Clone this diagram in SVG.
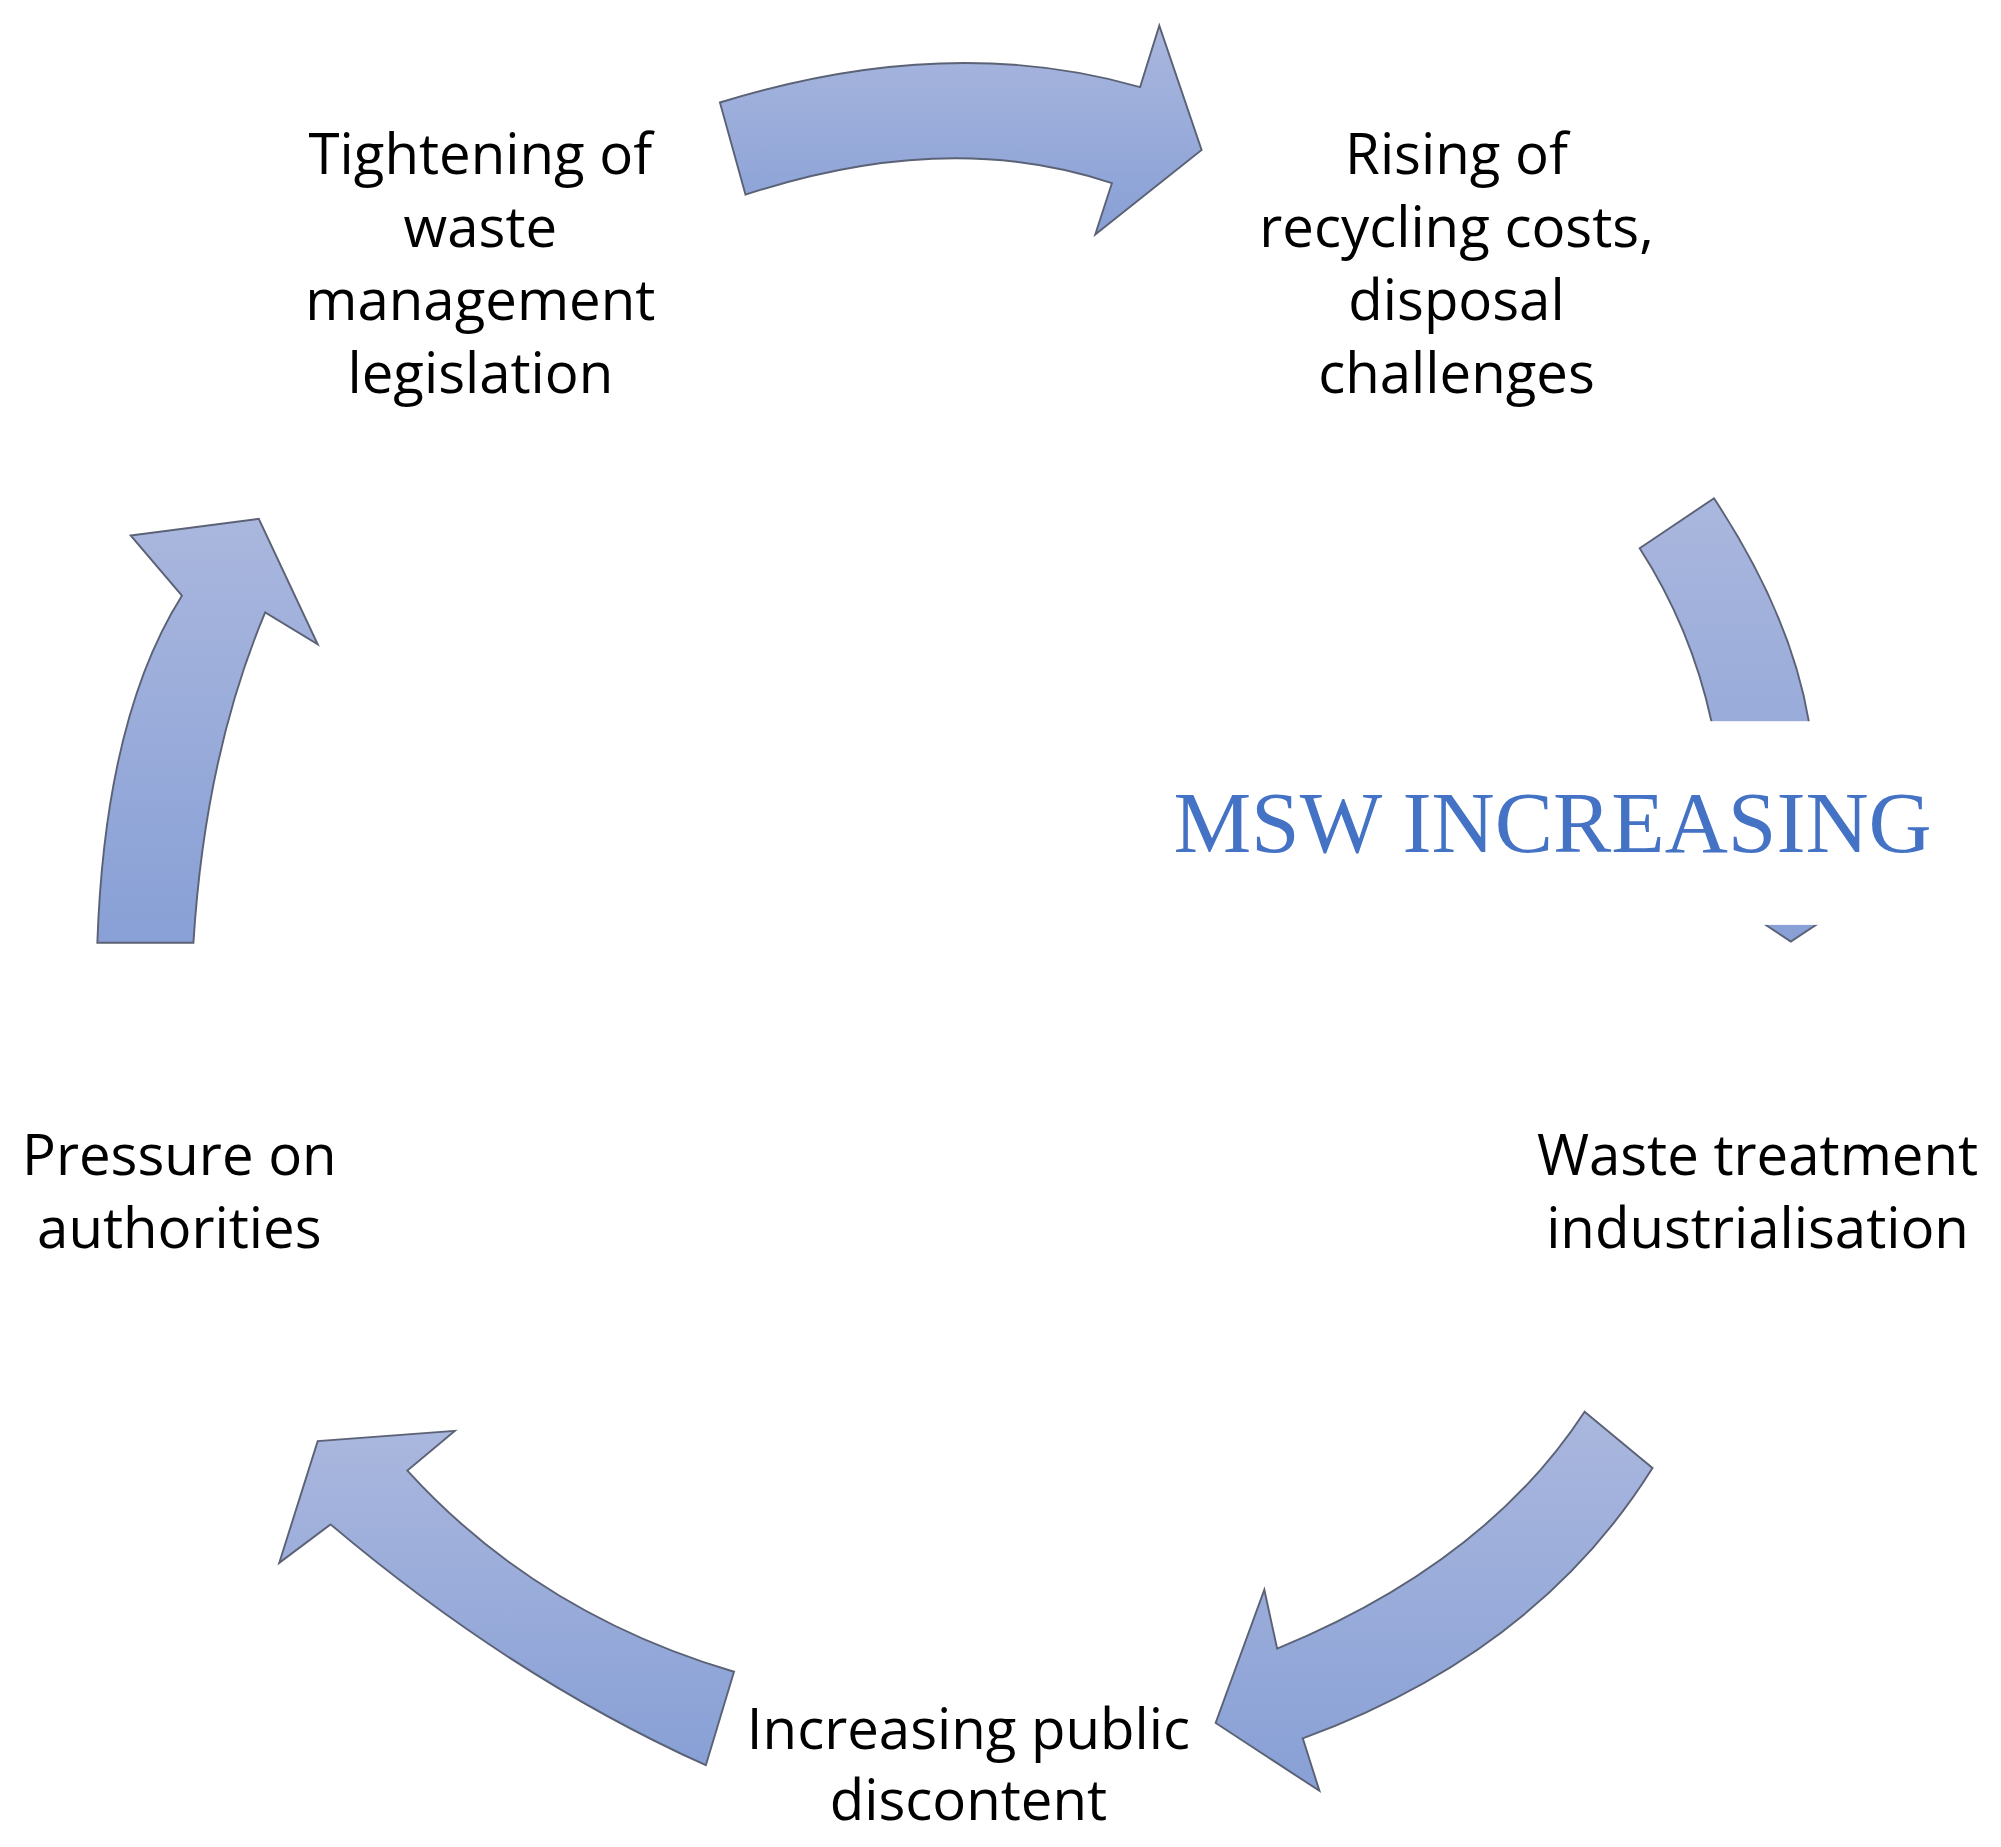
<svg xmlns="http://www.w3.org/2000/svg" width="2001" height="1847" viewBox="0 0 2001 1847">
<style>
.a{fill:url(#g);stroke:#5b6275;stroke-width:1.5}
.t{font-family:"Open Sans","Liberation Sans",sans-serif;font-size:44px;fill:#000;text-anchor:middle}
.m{font-family:"Liberation Serif",serif;font-size:68px;fill:#4472c4}
</style>
<defs>
<linearGradient id="g" x1="0" y1="0" x2="0" y2="1"><stop offset="0" stop-color="#aab7de"/><stop offset="1" stop-color="#88a0d6"/></linearGradient>
</defs>
<rect width="2001" height="1847" fill="#fff"/>
<g transform="scale(1.281)">
<g id="connectors">
<path class="a" d="M562,80 Q740,25 890,68 L905,20 L938,117 L855,183 L868,143 Q740,100 582,152 Z"/>
<path class="a" d="M1280,428 L1338,389 Q1398,480 1412,563 L1414,690 L1466,690 L1398,735 L1330,690 L1348,690 L1336,563 Q1320,490 1280,428 Z"/>
<path class="a" d="M1237,1102 L1290,1146 Q1200,1290 1017,1357 L1030,1398 L949,1345 L987,1241 L997,1287 Q1160,1220 1237,1102 Z"/>
<path class="a" d="M551,1378 Q400,1310 258,1190 L218,1220 L248,1125 L355,1117 L318,1148 Q420,1260 573,1305 Z"/>
<path class="a" d="M76,736 Q82,560 142,465 L102,418 L202,405 L248,503 L207,478 Q160,590 151,736 Z"/>
</g>
<g id="msw">
<rect x="1260" y="563" width="300" height="159" fill="#fff"/>
<text class="m" x="916" y="665" textLength="592" lengthAdjust="spacingAndGlyphs">MSW INCREASING</text>
</g>
<g id="n1"><text class="t" x="375" y="136">Tightening of</text><text class="t" x="375" y="193">waste</text><text class="t" x="375" y="250">management</text><text class="t" x="375" y="307">legislation</text></g>
<g id="n2"><text class="t" x="1137" y="136">Rising of</text><text class="t" x="1137" y="193">recycling costs,</text><text class="t" x="1137" y="250">disposal</text><text class="t" x="1137" y="307">challenges</text></g>
<g id="n3"><text class="t" x="1372" y="917">Waste treatment</text><text class="t" x="1372" y="974">industrialisation</text></g>
<g id="n4"><text class="t" x="756" y="1365">Increasing public</text><text class="t" x="756" y="1421">discontent</text></g>
<g id="n5"><text class="t" x="140" y="917">Pressure on</text><text class="t" x="140" y="974">authorities</text></g>
</g>
</svg>
